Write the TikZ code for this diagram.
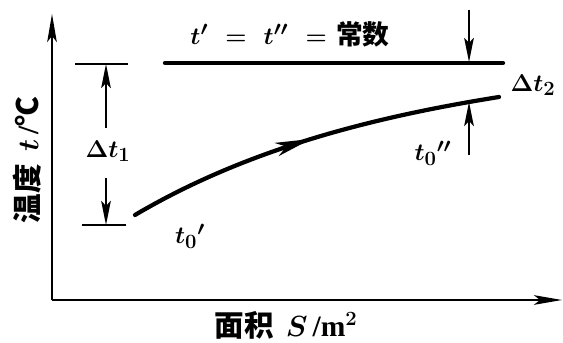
\documentclass[tikz,border=0pt]{standalone}
\usepackage{fontspec}
\setmainfont{Liberation Serif}
\newfontfamily\cjk{Noto Sans CJK SC}
\usetikzlibrary{arrows.meta,decorations.markings}
\begin{document}
\begin{tikzpicture}[x=0.025cm,y=0.025cm,
  every node/.style={font=\fontsize{19}{22}\selectfont\bfseries\boldmath},
  big/.style={font=\fontsize{21}{24}\selectfont\bfseries\boldmath},
  axis/.style={line width=1.5pt,-{Stealth[length=7mm,width=2.4mm,inset=1.5mm]}},
  dim/.style={line width=1.4pt,-{Stealth[length=6mm,width=2.4mm,inset=1.2mm]}},
  bar/.style={line width=1.8pt},
  heavy/.style={line width=3pt,line cap=round}]
  \useasboundingbox (0,0) rectangle (563,342);
  \coordinate (O) at (52,42);
  \coordinate (ytop) at (52,328);
  \coordinate (xend) at (562,42);
  \draw[axis] (O) -- (ytop);
  \draw[axis] (O) -- (xend);
  \coordinate (a0) at (165,279);
  \coordinate (a1) at (503,279);
  \draw[heavy] (a0) -- (a1);
  \coordinate (c0) at (135,127);
  \coordinate (c1) at (499,245);
  \draw[heavy,postaction={decorate},
    decoration={markings,mark=at position 0.5 with {\arrow{Stealth[length=9mm,width=3.4mm,inset=2.5mm]}}}]
    (c0) .. controls (250,195) and (380,226) .. (c1);
  \coordinate (u0) at (75,278);
  \coordinate (u1) at (128,278);
  \coordinate (l0) at (82,117);
  \coordinate (l1) at (126,117);
  \draw[bar] (u0) -- (u1);
  \draw[bar] (l0) -- (l1);
  \coordinate (d1) at (106,214);
  \coordinate (d2) at (106,164);
  \draw[dim] (d1) -- (106,278);
  \draw[dim] (d2) -- (106,117);
  \coordinate (r1) at (469,332);
  \coordinate (r2) at (469,187);
  \draw[dim] (r1) -- (469,280);
  \draw[dim] (r2) -- (469,240);
  \node (dt1) at (108,191) {$\Delta t_1$};
  \node (dt2) at (533,257) {$\Delta t_2$};
  \node (t0a) at (190,106) {$t_0{}'$};
  \node (t0b) at (433,189) {$t_0{}''$};
  \node (eq) at (290,308) {$t'\,\,=\,\,t''\,\,=\,\,${\cjk 常数}};
  \node[big,rotate=90] (ylab) at (27,182) {{\cjk 温度}\, $t$\,/{\cjk ℃}};
  \node[big] (xlab) at (286,17) {{\cjk 面积}\, $S$\,/m$^2$};
\end{tikzpicture}
\end{document}
